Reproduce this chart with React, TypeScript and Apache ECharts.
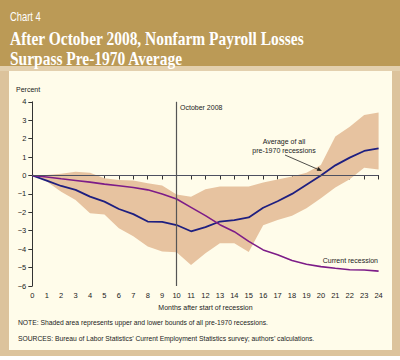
import React, { useEffect, useRef } from "react";
import * as echarts from "echarts";

const months = [0,1,2,3,4,5,6,7,8,9,10,11,12,13,14,15,16,17,18,19,20,21,22,23,24];
const averagePre1970 = [0,-0.28,-0.57,-0.78,-1.15,-1.42,-1.82,-2.1,-2.5,-2.52,-2.69,-3.03,-2.8,-2.5,-2.42,-2.28,-1.75,-1.4,-1.0,-0.5,0.0,0.55,0.97,1.33,1.47];
const currentRecession = [0,-0.08,-0.18,-0.27,-0.36,-0.47,-0.56,-0.65,-0.78,-1.0,-1.28,-1.73,-2.18,-2.67,-3.05,-3.58,-4.04,-4.3,-4.62,-4.82,-4.95,-5.04,-5.12,-5.13,-5.19];
const upperBound = [0,0.03,0.1,0.2,0.15,-0.15,-0.25,-0.27,-0.42,-0.55,-1.03,-1.15,-0.75,-0.6,-0.6,-0.6,-0.38,-0.22,-0.05,0.15,0.57,2.12,2.65,3.28,3.42];
const lowerBound = [0,-0.33,-0.88,-1.33,-2.05,-2.12,-2.87,-3.3,-3.85,-4.13,-4.17,-4.86,-4.22,-3.68,-3.68,-4.15,-2.7,-2.42,-2.18,-1.78,-1.24,-0.65,-0.2,0.42,0.32];
const yTicks = [-6,-5,-4,-3,-2,-1,0,1,2,3,4];

const BAND = "#e7c3a0";
const BLUE = "#1e1f80";
const PURPLE = "#7d1c88";
const FONT = "Liberation Sans, Arial, sans-serif";

export default function App() {
  const ref = useRef<HTMLDivElement>(null);
  useEffect(() => {
    document.body.style.margin = "0";
    const chart = echarts.init(ref.current!, null, { renderer: "svg" });
    const pairs = (arr: number[]) => months.map((m, i) => [m, arr[i]]);
    chart.setOption({
      animation: false,
      backgroundColor: "#ffffff",
      grid: { left: 32.3, right: 21.4, top: 101.8, bottom: 74, containLabel: false },
      xAxis: {
        type: "value",
        min: 0,
        max: 24,
        interval: 1,
        axisLine: { show: true, lineStyle: { color: "#333", width: 1 } },
        axisTick: { show: true, length: 4, lineStyle: { color: "#333" } },
        axisLabel: { color: "#222", fontSize: 7.5, fontFamily: FONT, margin: 5 },
        splitLine: { show: false },
        name: "Months after start of recession",
        nameLocation: "middle",
        nameGap: 17,
        nameTextStyle: { color: "#222", fontSize: 7, fontFamily: FONT },
      },
      yAxis: {
        type: "value",
        min: yTicks[0],
        max: yTicks[yTicks.length - 1],
        interval: 1,
        axisLine: { show: true, lineStyle: { color: "#333", width: 1 } },
        axisTick: { show: true, length: 4, lineStyle: { color: "#333" } },
        axisLabel: {
          color: "#222",
          fontSize: 7.5,
          fontFamily: FONT,
          margin: 6,
          formatter: (v: number) => (v < 0 ? "\u2212" + Math.abs(v) : String(v)),
        },
        splitLine: { show: false },
      },
      series: [
        {
          type: "custom",
          data: months.map((m, i) => [m, lowerBound[i], upperBound[i]]),
          silent: true,
          z: 1,
          renderItem: (params: any, api: any) => {
            if (params.dataIndex !== 0) return null;
            const top = months.map((m, i) => api.coord([m, upperBound[i]]));
            const bottom = months.map((m, i) => api.coord([m, lowerBound[i]])).reverse();
            return {
              type: "polygon",
              shape: { points: top.concat(bottom) },
              style: { fill: BAND, stroke: "none" },
            };
          },
        },
        {
          type: "line",
          data: [],
          z: 2,
          markLine: {
            silent: true,
            symbol: "none",
            label: { show: false },
            data: [
              { yAxis: 0, lineStyle: { color: "#4d5060", width: 1, type: "solid" } },
              { xAxis: 10, lineStyle: { color: "#555", width: 1.2, type: "solid" } },
            ],
          },
        },
        {
          type: "line",
          data: pairs(averagePre1970),
          symbol: "none",
          lineStyle: { color: BLUE, width: 1.8 },
          z: 3,
        },
        {
          type: "line",
          data: pairs(currentRecession),
          symbol: "none",
          lineStyle: { color: PURPLE, width: 1.6 },
          z: 3,
        },
      ],
      graphic: [
        { type: "rect", z: -10, silent: true, shape: { x: 0, y: 0, width: 400, height: 356 }, style: { fill: "#dcc39c" } },
        { type: "rect", z: -9, silent: true, shape: { x: 0, y: 0, width: 400, height: 66 }, style: { fill: "#bb9a56" } },
        { type: "rect", z: -9, silent: true, shape: { x: 0, y: 66, width: 400, height: 5 }, style: { fill: "#e3d0ae" } },
        { type: "rect", z: -8, silent: true, shape: { x: 9, y: 71, width: 383, height: 279 }, style: { fill: "#fffcea" } },
        { type: "text", z: 50, x: 10, y: 10, scaleX: 0.72, style: { text: "Chart 4", fill: "#ffffff", font: "13px " + FONT } },
        { type: "text", z: 50, x: 10, y: 30, scaleX: 0.86, style: { text: "After October 2008, Nonfarm Payroll Losses", fill: "#ffffff", font: "bold 18px Liberation Serif, serif" } },
        { type: "text", z: 50, x: 10, y: 50.5, scaleX: 0.86, style: { text: "Surpass Pre-1970 Average", fill: "#ffffff", font: "bold 18px Liberation Serif, serif" } },
        { type: "text", z: 50, x: 16, y: 86, style: { text: "Percent", fill: "#222", font: "7px " + FONT } },
        { type: "text", z: 50, x: 180, y: 104, style: { text: "October 2008", fill: "#222", font: "7px " + FONT } },
        { type: "text", z: 50, x: 284, y: 137, style: { text: "Average of all\npre-1970 recessions", fill: "#222", font: "7px " + FONT, align: "center", lineHeight: 9 } },
        { type: "line", z: 50, silent: true, shape: { x1: 285, y1: 155, x2: 319, y2: 169.8 }, style: { stroke: "#222", lineWidth: 0.8 } },
        { type: "polygon", z: 50, silent: true, shape: { points: [[322, 171], [316.7, 170.7], [318.3, 167.1]] }, style: { fill: "#222" } },
        { type: "text", z: 50, x: 378, y: 257, style: { text: "Current recession", fill: "#222", font: "7px " + FONT, align: "right" } },
        { type: "text", z: 50, x: 18, y: 319, scaleX: 0.9, style: { text: "NOTE: Shaded area represents upper and lower bounds of all pre-1970 recessions.", fill: "#222", font: "7.5px " + FONT } },
        { type: "text", z: 50, x: 18, y: 335, scaleX: 0.9, style: { text: "SOURCES: Bureau of Labor Statistics\u2019 Current Employment Statistics survey; authors\u2019 calculations.", fill: "#222", font: "7.5px " + FONT } },
      ],
    });
    return () => chart.dispose();
  }, []);
  return <div ref={ref} style={{ width: 400, height: 360 }} />;
}
